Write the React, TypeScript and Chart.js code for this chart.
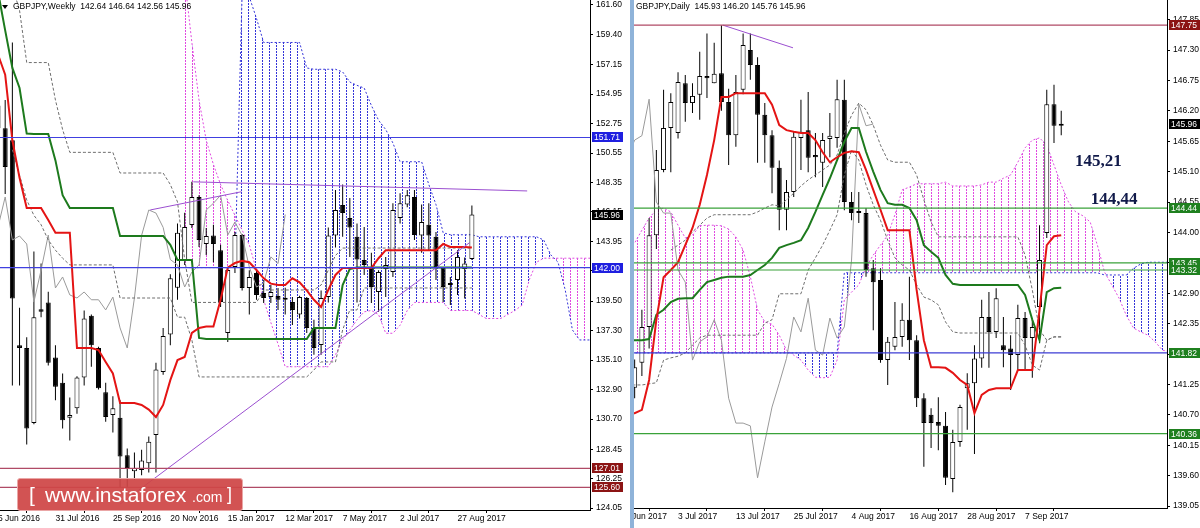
import React, { useEffect, useRef } from 'react';
import { Chart, registerables } from 'chart.js';

Chart.register(...registerables);

const SANS = '"Liberation Sans", Arial, Helvetica, sans-serif';
const SERIF = '"Liberation Serif", "Times New Roman", serif';

/* =================== Weekly panel (left) =================== */
const weeklyTitle = 'GBPJPY,Weekly  142.64 146.64 142.56 145.96';
const weeklyTickIndex = [0, 8, 16, 24, 32, 40, 48, 56, 64];
const weeklyTickLabels = ['5 Jun 2016', '31 Jul 2016', '25 Sep 2016', '20 Nov 2016', '15 Jan 2017', '12 Mar 2017', '7 May 2017', '2 Jul 2017', '27 Aug 2017'];
const weeklyPriceTicks = [161.6, 159.4, 157.15, 154.95, 152.75, 150.55, 148.35, 146.15, 143.95, 141.75, 139.5, 137.3, 135.1, 132.9, 130.7, 128.45, 126.25, 124.05];

const weeklyOpen = [
  154.1, 152.4, 151.5, 136.2, 136.0, 130.4, 138.9, 139.4, 135.3, 133.4,
  130.8, 131.5, 133.8, 138.4, 136.0, 132.7, 131.0, 130.8, 128.0, 126.8,
  126.9, 127.4, 129.5, 134.2, 137.0, 140.5, 142.57, 145.18, 147.27, 143.76,
  144.4, 143.3, 137.12, 142.04, 144.43, 140.48, 141.6, 140.1, 139.8, 139.88,
  139.7, 139.43, 138.5, 139.73, 137.5, 136.22, 139.8, 144.4, 146.67, 145.7,
  144.3, 142.57, 141.97, 140.18, 141.9, 141.67, 145.7, 146.7, 147.27, 144.4,
  145.2, 144.3, 141.97, 140.7, 141.07, 141.9, 142.64,
];
const weeklyHigh = [
  156.0, 154.5, 158.8, 139.0, 136.8, 143.2, 142.3, 140.2, 136.2, 134.1,
  132.3, 133.9, 138.8, 138.5, 136.1, 133.4, 132.4, 132.1, 128.5, 128.2,
  128.4, 129.4, 134.9, 137.5, 141.5, 145.3, 146.1, 148.4, 147.4, 144.96,
  145.2, 143.7, 142.04, 144.66, 144.5, 141.8, 141.8, 141.07, 140.7, 140.48,
  140.5, 139.8, 139.9, 139.8, 138.1, 140.3, 145.0, 147.8, 148.2, 147.2,
  145.3, 145.03, 143.1, 141.8, 142.8, 146.8, 147.55, 147.8, 147.8, 146.7,
  146.8, 144.66, 142.04, 141.3, 143.3, 142.75, 146.64,
];
const weeklyLow = [
  151.8, 147.5, 133.2, 133.2, 128.8, 130.3, 138.3, 134.7, 132.1, 130.0,
  129.1, 131.1, 133.2, 134.6, 132.9, 130.5, 129.7, 125.6, 125.6, 126.15,
  126.5, 126.7, 126.7, 134.0, 136.2, 139.6, 142.2, 144.96, 143.54, 142.94,
  142.4, 139.06, 136.45, 141.6, 140.3, 138.5, 139.6, 139.36, 139.36, 138.84,
  138.5, 137.72, 138.2, 137.12, 135.5, 135.5, 139.4, 143.5, 144.3, 142.8,
  139.4, 141.45, 139.35, 138.7, 139.8, 141.3, 145.3, 146.5, 144.06, 143.1,
  143.3, 141.07, 139.43, 139.2, 139.96, 139.7, 142.56,
];
const weeklyClose = [
  152.4, 149.5, 139.7, 136.0, 130.0, 138.3, 138.7, 134.9, 133.1, 130.6,
  131.0, 133.8, 138.2, 136.2, 133.0, 130.85, 131.5, 127.9, 127.05, 127.05,
  127.6, 129.0, 134.4, 136.9, 141.2, 144.6, 145.03, 147.27, 144.06, 144.36,
  143.76, 139.43, 141.82, 144.43, 140.48, 141.3, 139.96, 139.73, 140.18, 139.6,
  139.6, 138.84, 139.8, 137.5, 136.0, 139.73, 144.4, 146.3, 146.07, 145.0,
  142.6, 142.2, 140.55, 141.67, 142.2, 146.3, 146.8, 147.4, 144.43, 145.4,
  144.4, 142.04, 140.55, 140.85, 142.8, 142.3, 145.96,
];
const weeklyTenkan = [
  157.9, 156.4, 151.5, 148.7, 146.45, 146.45, 146.45, 145.55, 144.6, 144.6,
  144.6, 136.0, 136.0, 136.0, 135.85, 134.96, 134.1, 131.9, 131.9, 131.9,
  131.75, 131.4, 130.85, 131.75, 133.6, 135.1, 135.33, 137.12, 137.5, 137.6,
  137.6, 139.6, 142.0, 142.34, 142.5, 142.4, 141.82, 141.2, 140.8, 140.7,
  140.7, 141.2, 140.9, 140.3, 139.6, 139.06, 140.33, 141.45, 141.97, 141.97,
  141.97, 141.97, 141.97, 142.7, 143.3, 143.3, 143.3, 143.3, 143.3, 143.3,
  143.3, 143.3, 143.76, 143.54, 143.54, 143.54, 143.5,
];
const weeklyKijun = [
  162.6, 159.7, 156.9, 155.4, 152.0, 151.97, 151.97, 151.97, 150.0, 147.4,
  146.45, 146.45, 146.45, 146.45, 146.45, 146.45, 146.45, 144.36, 144.36, 144.36,
  144.36, 144.36, 144.36, 144.36, 143.7, 142.57, 142.57, 142.57, 136.75, 136.67,
  136.67, 136.67, 136.67, 136.67, 136.67, 136.67, 136.67, 136.67, 136.67, 136.67,
  136.67, 136.67, 136.67, 136.67, 137.5, 137.5, 137.5, 137.5, 140.7, 141.9,
  142.0, 142.0, 142.0, 142.0, 142.0, 142.0, 142.0, 142.0, 142.0, 142.0,
  142.0, 142.0, 142.0, 142.0, 142.0, 142.0, 142.0,
];
const weeklyChikou = [
  145.03, 147.27, 144.06, 144.36, 143.76, 139.43, 141.82, 144.43, 140.48, 141.3,
  139.96, 139.73, 140.18, 139.6, 139.6, 138.84, 139.8, 137.5, 136.0, 139.73,
  144.4, 146.3, 146.07, 145.0, 142.6, 142.2, 140.55, 141.67, 142.2, 146.3,
  146.8, 147.4, 144.43, 145.4, 144.4, 142.04, 140.55, 140.85, 142.8, 142.3,
  145.96,
];
const weeklyDashStart = 2;
const weeklyDashUpper = [
  163.0, 161.2, 157.3, 157.3, 157.3, 157.3, 154.5, 152.3,
  150.6, 150.6, 150.6, 150.6, 150.6, 150.6, 150.6,
  149.06, 149.06, 149.06, 149.06, 149.06, 149.06, 149.06,
  148.2, 146.9, 142.6,
  139.4, 139.4, 139.4, 139.4, 139.4, 139.4, 139.4, 139.4, 139.4, 139.4,
  140.33, 140.33, 140.33, 140.33, 140.33, 140.33, 140.33, 140.33,
  140.7, 141.8, 142.9,
  143.46, 143.46, 143.46, 143.46, 143.46, 143.46, 143.46, 143.46, 143.46, 143.46,
  143.46, 143.46, 143.46, 143.46, 143.46, 143.46, 143.46, 143.46, 143.46,
];
const weeklyDashLower = [
  150.8, 148.9, 147.05, 145.9, 145.2, 144.06, 143.3, 142.7,
  142.2, 142.2, 142.2, 142.2, 142.2, 142.2, 142.2,
  139.73, 139.73, 139.73, 139.73, 139.73, 139.73, 139.73, 139.73,
  138.3, 138.3, 136.6,
  133.84, 133.84, 133.84, 133.84, 133.84, 133.84, 133.84, 133.84,
  133.84, 133.84, 133.84, 133.84, 133.84, 133.84, 133.84, 133.84,
  134.36, 134.96, 134.96, 134.96, 137.35, 138.84, 138.84,
  140.48, 140.48, 140.48, 140.48, 140.48, 140.48, 140.48, 140.48,
  140.48, 140.48, 140.48, 140.48, 140.48, 140.48, 140.48, 140.48,
];
const weeklySpanStart = 26;
const weeklySpanBlue = [
  142.0, 142.0, 142.0, 142.0, 142.0, 142.0, 142.0, 142.0,
  162.5, 162.2, 160.6,
  158.8, 158.8, 158.8, 158.8, 158.8, 158.8,
  156.9,
  156.8, 156.8, 156.8, 156.8,
  156.6, 155.85, 155.6, 155.4, 154.1, 153.0, 152.3, 151.3,
  149.9, 149.9, 149.9, 149.9,
  148.2, 146.7, 144.6,
  144.45, 144.45, 144.45, 144.45,
  144.3, 144.3, 144.3, 144.3, 144.3, 144.3, 144.3, 144.3, 144.3,
  144.06, 142.94, 142.4, 140.33, 137.35, 136.6, 136.6, 136.6,
];
const weeklySpanPink = [
  163.5, 158.8, 154.5, 151.5, 149.7, 148.2, 147.0, 145.9, 144.8, 143.7, 141.8, 139.6, 137.9, 136.3,
  134.6, 134.6, 134.6, 134.6, 134.6, 134.6, 134.6,
  135.5, 136.6, 137.35, 138.1, 138.7, 138.8, 138.5, 137.1, 137.1, 137.7, 138.8,
  139.4, 139.4, 139.4, 139.4, 139.4,
  138.8, 138.8, 138.8, 138.8,
  138.5, 138.2, 138.2, 138.2, 138.5, 138.8, 139.2, 141.1, 142.4,
  142.7, 142.7, 142.7, 142.7, 142.7, 142.7, 142.7, 142.7,
];
const weeklyLevels = [151.71, 142.0, 127.01, 125.6];
const weeklyLevelKinds = ['blue', 'blue', 'maroon', 'maroon'];
const weeklyLastPrice = 145.96;
const weeklyTrendX = [[27.2, 73.7], [21.2, 33.9], [17.0, 65.7]];
const weeklyTrendY = [[148.4, 147.72], [146.3, 147.66], [124.35, 143.87]];

/* =================== Daily panel (right) =================== */
const dailyTitle = 'GBPJPY,Daily  145.93 146.20 145.76 145.96';
const dailyTickIndex = [0, 8, 16, 24, 32, 40, 48, 56];
const dailyTickLabels = ['21 Jun 2017', '3 Jul 2017', '13 Jul 2017', '25 Jul 2017', '4 Aug 2017', '16 Aug 2017', '28 Aug 2017', '7 Sep 2017'];
const dailyPriceTicks = [147.85, 147.3, 146.75, 146.2, 145.65, 145.1, 144.55, 144.0, 143.45, 142.9, 142.35, 141.8, 141.25, 140.7, 140.15, 139.6, 139.05];

const dailyOpen = [
  140.8, 141.0, 141.19, 141.64, 142.29, 143.95, 145.13, 145.89, 145.8, 146.7,
  146.34, 146.49, 146.83, 146.7, 146.88, 146.36, 145.76, 146.58, 147.3, 147.03,
  146.13, 145.76, 145.17, 144.41, 144.73, 145.71, 145.85, 145.4, 145.26, 145.69,
  145.71, 146.4, 144.55, 144.37, 144.35, 143.35, 143.14, 141.69, 141.93, 142.11,
  142.42, 142.05, 141.0, 140.7, 140.57, 140.5, 139.54, 140.21, 141.18, 141.27,
  141.72, 142.47, 142.2, 141.96, 141.9, 141.78, 142.45, 142.09, 142.65, 143.99,
  146.32, 145.93,
];
const dailyHigh = [
  141.3, 141.4, 141.7, 142.6, 144.26, 145.49, 146.58, 146.52, 146.9, 146.85,
  146.7, 147.27, 147.6, 147.43, 147.75, 146.6, 146.85, 147.6, 147.6, 147.17,
  146.34, 145.85, 145.3, 144.95, 145.82, 146.4, 146.54, 145.8, 145.8, 146.16,
  146.76, 146.76, 144.73, 144.73, 144.44, 143.5, 143.35, 142.11, 142.74, 142.72,
  143.2, 142.14, 141.09, 140.82, 141.02, 140.75, 140.43, 140.88, 141.45, 141.96,
  142.78, 142.92, 142.99, 142.47, 142.14, 142.69, 142.56, 142.42, 144.13, 146.58,
  146.67, 146.2,
];
const dailyLow = [
  140.6, 140.8, 141.0, 141.4, 141.9, 143.7, 145.09, 145.09, 145.7, 146.0,
  146.16, 146.04, 146.43, 146.7, 146.2, 145.22, 145.55, 146.5, 146.76, 145.26,
  145.26, 144.71, 144.04, 144.04, 144.64, 145.13, 145.09, 145.0, 144.82, 145.36,
  145.53, 144.4, 144.22, 144.17, 143.2, 142.23, 141.64, 141.24, 141.87, 141.93,
  141.69, 140.84, 139.76, 140.1, 140.06, 139.43, 139.3, 140.12, 140.43, 139.99,
  141.55, 141.55, 142.09, 141.56, 141.15, 141.51, 141.51, 141.37, 142.0, 143.9,
  145.62, 145.76,
];
const dailyClose = [
  141.0, 141.2, 141.56, 142.29, 143.95, 145.13, 145.89, 146.36, 146.72, 146.34,
  146.47, 146.83, 146.79, 146.87, 146.36, 145.76, 146.54, 147.39, 147.03, 146.13,
  145.76, 145.17, 144.41, 144.73, 145.73, 145.82, 145.35, 145.36, 145.67, 145.75,
  146.41, 144.55, 144.35, 144.35, 143.32, 143.1, 141.69, 142.02, 142.11, 142.42,
  142.05, 141.0, 140.55, 140.55, 140.5, 139.56, 140.21, 140.84, 141.27, 141.72,
  142.47, 142.2, 142.81, 141.87, 141.78, 142.45, 142.09, 142.29, 143.5, 146.32,
  145.93, 145.96,
];
const dailyTenkan = [
  140.73, 140.73, 140.73, 140.79, 141.33, 142.42, 143.19, 143.32, 143.46, 143.77,
  144.08, 144.5, 145.04, 145.67, 146.45, 146.45, 146.52, 146.52, 146.52, 146.52,
  146.52, 146.31, 145.94, 145.85, 145.82, 145.8, 145.8, 145.67, 145.45, 145.27,
  145.36, 145.44, 145.47, 145.45, 145.13, 144.77, 144.41, 144.04, 144.04, 144.04,
  144.04, 142.96, 142.05, 141.56, 141.56, 141.55, 141.46, 141.33, 141.24, 140.73,
  141.06, 141.15, 141.18, 141.18, 141.18, 141.51, 141.51, 141.51, 142.6, 143.77,
  143.93, 143.95,
];
const dailyKijun = [
  142.05, 142.05, 142.05, 142.05, 142.07, 142.51, 142.6, 142.74, 142.8, 142.81,
  142.81, 142.96, 143.1, 143.14, 143.18, 143.2, 143.2, 143.2, 143.23, 143.32,
  143.41, 143.54, 143.72, 143.77, 143.81, 143.86, 144.08, 144.37, 144.68, 144.98,
  145.31, 145.64, 145.89, 145.89, 145.46, 145.1, 144.77, 144.53, 144.5, 144.5,
  144.44, 144.22, 143.77, 143.65, 143.54, 143.23, 143.07, 143.05, 143.05, 143.05,
  143.05, 143.05, 143.05, 143.05, 143.05, 143.05, 142.87, 142.42, 142.05, 142.92,
  142.99, 143.0,
];
const dailyChikou = [
  145.35, 145.36, 145.67, 145.75, 146.41, 144.55, 144.35, 144.35, 143.32, 143.1,
  141.69, 142.02, 142.11, 142.42, 142.05, 141.0, 140.55, 140.55, 140.5, 139.56,
  140.21, 140.84, 141.27, 141.72, 142.47, 142.2, 142.81, 141.87, 141.78, 142.45,
  142.09, 142.29, 143.5, 146.32, 145.93, 145.96,
];
const dailyDashAStart = 7;
const dailyDashA = [
  143.68, 143.77, 143.86, 144.01, 144.13, 144.26, 144.32, 144.32, 144.32, 144.32,
  144.32, 144.32, 144.37, 144.44, 144.5, 144.48, 144.59, 144.71, 144.84, 144.95,
  145.04, 145.13, 145.22, 145.4, 145.8, 146.12, 146.34, 146.22, 145.94, 145.58,
  145.31, 145.27, 145.27, 145.27, 145.04, 144.59, 144.19, 143.92, 143.92, 143.92,
  143.92, 143.92, 143.92, 143.92, 143.92, 143.92, 143.92, 143.92, 143.92, 143.59,
  142.96, 142.24, 142.05, 142.11, 142.11,
];
const dailyDashBStart = 1;
const dailyDashB = [
  141.24, 141.24, 141.24, 141.26, 141.28, 141.69, 141.73, 141.76, 141.82, 141.96,
  142.09, 142.14, 142.14, 142.14, 142.14, 142.14, 142.14, 142.14, 142.14, 142.36,
  142.42, 142.89, 142.89, 142.89, 142.89, 143.32, 143.54, 143.77, 144.04, 144.32,
  145.04, 145.49, 145.31, 144.86, 144.5, 144.22, 143.86, 143.54, 143.41, 143.32,
  143.05, 142.83, 142.78, 142.69, 142.38, 142.2, 142.18, 142.18, 142.18, 142.18,
  142.18, 142.18, 142.18, 142.18, 142.18, 141.96, 141.6, 141.51, 142.05, 142.11, 142.11,
];
const dailySpanStart = 1;
const dailySpanPink = [
  143.81, 143.81, 144.04, 144.26, 144.41, 144.44, 144.37, 144.13, 143.9, 143.95,
  144.12, 144.13, 144.13, 144.12, 144.06, 143.92, 143.68, 143.2, 142.6, 142.38,
  142.34, 142.14, 141.87, 141.78, 141.69, 141.51, 141.38, 141.37, 141.38, 141.69,
  142.78, 142.92, 143.05, 143.37, 143.59, 143.77, 143.95, 144.32, 144.77, 144.82,
  144.88, 144.88, 144.88, 144.88, 144.91, 144.84, 144.84, 144.84, 144.84, 144.86,
  144.91, 144.91, 144.98, 145.04, 145.27, 145.53, 145.67, 145.71, 145.58, 145.22,
  144.86, 144.55, 144.37, 144.3, 144.19, 143.77, 143.28, 143.05, 142.81, 142.5,
  142.27, 142.2, 142.14, 142.02, 141.87, 141.84,
];
const dailySpanBlue = [
  141.82, 141.82, 141.82, 141.82, 141.82, 141.82, 141.82, 141.82, 141.82, 141.82,
  141.82, 141.82, 141.82, 141.82, 141.82, 141.82, 141.82, 141.82, 141.82, 141.82,
  141.82, 141.82, 141.82, 141.82, 141.82, 141.82, 141.82, 141.82, 141.82, 141.82,
  143.27, 143.27, 143.27, 143.27, 143.27, 143.27, 143.27, 143.27, 143.27, 143.27,
  143.27, 143.27, 143.27, 143.27, 143.27, 143.27, 143.27, 143.27, 143.27, 143.27,
  143.27, 143.27, 143.27, 143.27, 143.27, 143.27, 143.27, 143.27, 143.27, 143.27,
  143.27, 143.27, 143.27, 143.27, 143.27, 143.27, 143.23, 143.23, 143.23, 143.23,
  143.35, 143.43, 143.46, 143.46, 143.46, 143.46,
];
const dailyLevels = [147.75, 144.44, 143.45, 143.32, 141.82, 140.36];
const dailyLevelKinds = ['maroon', 'green', 'green', 'green', 'blueGreen', 'green'];
const dailyLastPrice = 145.96;
const dailyTrendX = [[14.2, 23.9]];
const dailyTrendY = [[147.75, 147.34]];
const dailyNotes = ['145,21', '144,44'];
const dailyNoteX = [62.9, 65.1];
const dailyNoteY = [145.2, 144.51];

/* =================== styling =================== */
const LEVEL_LINE: Record<string, string> = { blue: '#4040e0', maroon: '#b04a66', green: '#3aa23a', blueGreen: '#3c3cd4' };
const LEVEL_BOX: Record<string, string> = { blue: '#1f1fe0', maroon: '#8c1414', green: '#1f801f', blueGreen: '#1f801f' };
const BLUE_DOT = '#3333d8';
const PINK_DOT = '#e04ae0';

function dotPattern(color: string) {
  const c = document.createElement('canvas');
  c.width = 7;
  c.height = 3;
  const g = c.getContext('2d')!;
  g.fillStyle = color;
  g.fillRect(3, 0, 1, 2);
  return g.createPattern(c, 'repeat')!;
}

const seq = (vals: number[], start = 0) => vals.map((v, k) => ({ x: start + k, y: v }));

function overlay(p: any) {
  return {
    id: 'overlay',
    afterDraw(chart: any) {
      const ctx = chart.ctx;
      const xs = chart.scales.x;
      const ys = chart.scales.y;
      const area = chart.chartArea;
      ctx.save();
      ctx.fillStyle = '#000';
      ctx.font = `8.5px ${SANS}`;
      ctx.textBaseline = 'middle';
      ctx.textAlign = 'left';
      ctx.fillText(p.title, p.titleX, 7);
      if (p.triangle) {
        ctx.beginPath();
        ctx.moveTo(2, 5);
        ctx.lineTo(8, 5);
        ctx.lineTo(5, 9);
        ctx.closePath();
        ctx.fill();
      }
      (p.notes || []).forEach((t: string, k: number) => {
        ctx.font = `bold 17px ${SERIF}`;
        ctx.fillStyle = '#111a4a';
        ctx.textBaseline = 'alphabetic';
        ctx.fillText(t, xs.getPixelForValue(p.noteX[k]), ys.getPixelForValue(p.noteY[k]));
      });
      ctx.font = `8.5px ${SANS}`;
      ctx.textBaseline = 'middle';
      const boxes = p.levels.map((v: number, k: number) => ({ v, bg: LEVEL_BOX[p.kinds[k]] }));
      boxes.push({ v: p.last, bg: '#000' });
      boxes.forEach((b: any) => {
        const y = Math.round(ys.getPixelForValue(b.v));
        ctx.fillStyle = b.bg;
        ctx.fillRect(area.right + 2, y - 5, 31, 10);
        ctx.fillStyle = '#fff';
        ctx.fillText(b.v.toFixed(2), area.right + 4, y + 0.5);
      });
      ctx.restore();
    },
  };
}

function buildConfig(p: any): any {
  const bluePat = dotPattern(BLUE_DOT);
  const pinkPat = dotPattern(PINK_DOT);
  const line = (data: any[], color: string, width: number, order: number, dash: number[] = []) => ({
    type: 'line', data, borderColor: color, borderWidth: width, borderDash: dash,
    pointRadius: 0, fill: false, tension: 0, order,
  });
  const datasets: any[] = [
    { ...line(seq(p.spanBlue, p.spanStart), BLUE_DOT, 1, 9, [2, 2]), fill: { target: 1, above: bluePat, below: pinkPat } },
    line(seq(p.spanPink, p.spanStart), PINK_DOT, 1, 9, [2, 2]),
    {
      type: 'bar', data: p.open.map((o: number, i: number) => ({ x: i, y: [p.low[i], p.high[i]] })),
      backgroundColor: '#000', borderWidth: 0, barThickness: 1, grouped: false, inflateAmount: 0, order: 6,
    },
    {
      type: 'bar', data: p.open.map((o: number, i: number) => ({ x: i, y: [o, p.close[i]] })),
      backgroundColor: p.open.map((o: number, i: number) => (p.close[i] >= o ? '#ffffff' : '#000000')),
      borderColor: '#000', borderWidth: 1, borderSkipped: false, barThickness: p.bodyW,
      minBarLength: 2, grouped: false, inflateAmount: 0, order: 5,
    },
    line(seq(p.dashA, p.dashAStart), '#6e6e6e', 1, 4, [3, 2]),
    line(seq(p.dashB, p.dashBStart), '#6e6e6e', 1, 4, [3, 2]),
    line(seq(p.chikou, 0), '#9a9a9a', 1, 4),
    line(seq(p.kijun, 0), '#1d7a1d', 2, 3),
    line(seq(p.tenkan, 0), '#e41414', 2, 2),
  ];
  p.levels.forEach((v: number, k: number) => {
    datasets.push(line([{ x: -50, y: v }, { x: 500, y: v }], LEVEL_LINE[p.kinds[k]], 1.2, 1));
  });
  p.trendX.forEach((xx: number[], k: number) => {
    datasets.push(line([{ x: xx[0], y: p.trendY[k][0] }, { x: xx[1], y: p.trendY[k][1] }], '#9b4fd0', 1, 1));
  });

  const tickFont = { family: SANS, size: 8.5 };
  return {
    type: 'bar',
    data: { datasets },
    options: {
      animation: false,
      responsive: false,
      devicePixelRatio: 1,
      events: [],
      layout: { padding: 0, autoPadding: false },
      plugins: { legend: { display: false }, tooltip: { enabled: false } },
      scales: {
        x: {
          type: 'linear', min: p.xMin, max: p.xMax, offset: false, bounds: 'data',
          afterBuildTicks: (s: any) => { s.ticks = p.tickIndex.map((v: number) => ({ value: v })); },
          afterFit: (s: any) => { s.height = p.axisH; s.paddingLeft = 0; s.paddingRight = 0; },
          ticks: {
            autoSkip: false, maxRotation: 0, minRotation: 0, align: 'start', padding: 1, color: '#000',
            font: tickFont, callback: (_v: any, idx: number) => p.tickLabels[idx],
          },
          grid: { drawOnChartArea: false, drawTicks: true, tickLength: 3, color: '#000' },
          border: { display: true, color: '#000', width: 1 },
        },
        y: {
          type: 'linear', position: 'right', min: p.yMin, max: p.yMax, bounds: 'data',
          afterBuildTicks: (s: any) => { s.ticks = p.priceTicks.map((v: number) => ({ value: v })); },
          afterFit: (s: any) => { s.width = p.axisW; s.paddingTop = 0; s.paddingBottom = 0; },
          ticks: { autoSkip: false, padding: 3, color: '#000', font: tickFont, callback: (v: any) => Number(v).toFixed(2) },
          grid: { drawOnChartArea: false, drawTicks: true, tickLength: 3, color: '#000' },
          border: { display: true, color: '#000', width: 1 },
        },
      },
    },
    plugins: [overlay({
      title: p.title, titleX: p.titleX, triangle: p.triangle, levels: p.levels, kinds: p.kinds,
      last: p.last, notes: p.notes, noteX: p.noteX, noteY: p.noteY,
    })],
  };
}

export default function App() {
  const leftRef = useRef<HTMLCanvasElement>(null);
  const rightRef = useRef<HTMLCanvasElement>(null);

  useEffect(() => {
    document.body.style.margin = '0';
    const weekly = new Chart(leftRef.current!, buildConfig({
      title: weeklyTitle, titleX: 13, triangle: true,
      open: weeklyOpen, high: weeklyHigh, low: weeklyLow, close: weeklyClose,
      tenkan: weeklyTenkan, kijun: weeklyKijun, chikou: weeklyChikou,
      dashA: weeklyDashUpper, dashAStart: weeklyDashStart, dashB: weeklyDashLower, dashBStart: weeklyDashStart,
      spanBlue: weeklySpanBlue, spanPink: weeklySpanPink, spanStart: weeklySpanStart,
      levels: weeklyLevels, kinds: weeklyLevelKinds, last: weeklyLastPrice,
      trendX: weeklyTrendX, trendY: weeklyTrendY, notes: [], noteX: [], noteY: [],
      xMin: 0.2786, xMax: 82.45, yMin: 123.91, yMax: 161.97,
      tickIndex: weeklyTickIndex, tickLabels: weeklyTickLabels, priceTicks: weeklyPriceTicks,
      axisW: 40, axisH: 18, bodyW: 5,
    }));
    const daily = new Chart(rightRef.current!, buildConfig({
      title: dailyTitle, titleX: 2, triangle: false,
      open: dailyOpen, high: dailyHigh, low: dailyLow, close: dailyClose,
      tenkan: dailyTenkan, kijun: dailyKijun, chikou: dailyChikou,
      dashA: dailyDashA, dashAStart: dailyDashAStart, dashB: dailyDashB, dashBStart: dailyDashBStart,
      spanBlue: dailySpanBlue, spanPink: dailySpanPink, spanStart: dailySpanStart,
      levels: dailyLevels, kinds: dailyLevelKinds, last: dailyLastPrice,
      trendX: dailyTrendX, trendY: dailyTrendY, notes: dailyNotes, noteX: dailyNoteX, noteY: dailyNoteY,
      xMin: 1.909, xMax: 75.63, yMin: 139.014, yMax: 148.205,
      tickIndex: dailyTickIndex, tickLabels: dailyTickLabels, priceTicks: dailyPriceTicks,
      axisW: 33, axisH: 20, bodyW: 5,
    }));
    return () => {
      weekly.destroy();
      daily.destroy();
    };
  }, []);

  return (
    <div style={{ position: 'relative', width: 1200, height: 528, background: '#fff', overflow: 'hidden' }}>
      <canvas ref={leftRef} width={630} height={528} style={{ position: 'absolute', left: 0, top: 0 }} />
      <div style={{ position: 'absolute', left: 630, top: 0, width: 4, height: 528, background: '#8fb3d9' }} />
      <canvas ref={rightRef} width={566} height={528} style={{ position: 'absolute', left: 634, top: 0 }} />
      <div
        style={{
          position: 'absolute', left: 17, top: 478, width: 226, height: 33, boxSizing: 'border-box',
          background: 'rgba(207,70,70,0.93)', border: '1px solid #eaa6a6', borderRadius: 3,
          color: '#fff', fontFamily: SANS, whiteSpace: 'nowrap',
        }}
      >
        <span style={{ position: 'absolute', left: 11, top: 5, fontSize: 21, lineHeight: '21px' }}>[</span>
        <span style={{ position: 'absolute', left: 27, top: 5, fontSize: 21, lineHeight: '21px' }}>www.instaforex</span>
        <span style={{ position: 'absolute', left: 174, top: 11, fontSize: 14, lineHeight: '14px' }}>.com</span>
        <span style={{ position: 'absolute', left: 209, top: 6, fontSize: 18, lineHeight: '18px' }}>]</span>
      </div>
    </div>
  );
}
